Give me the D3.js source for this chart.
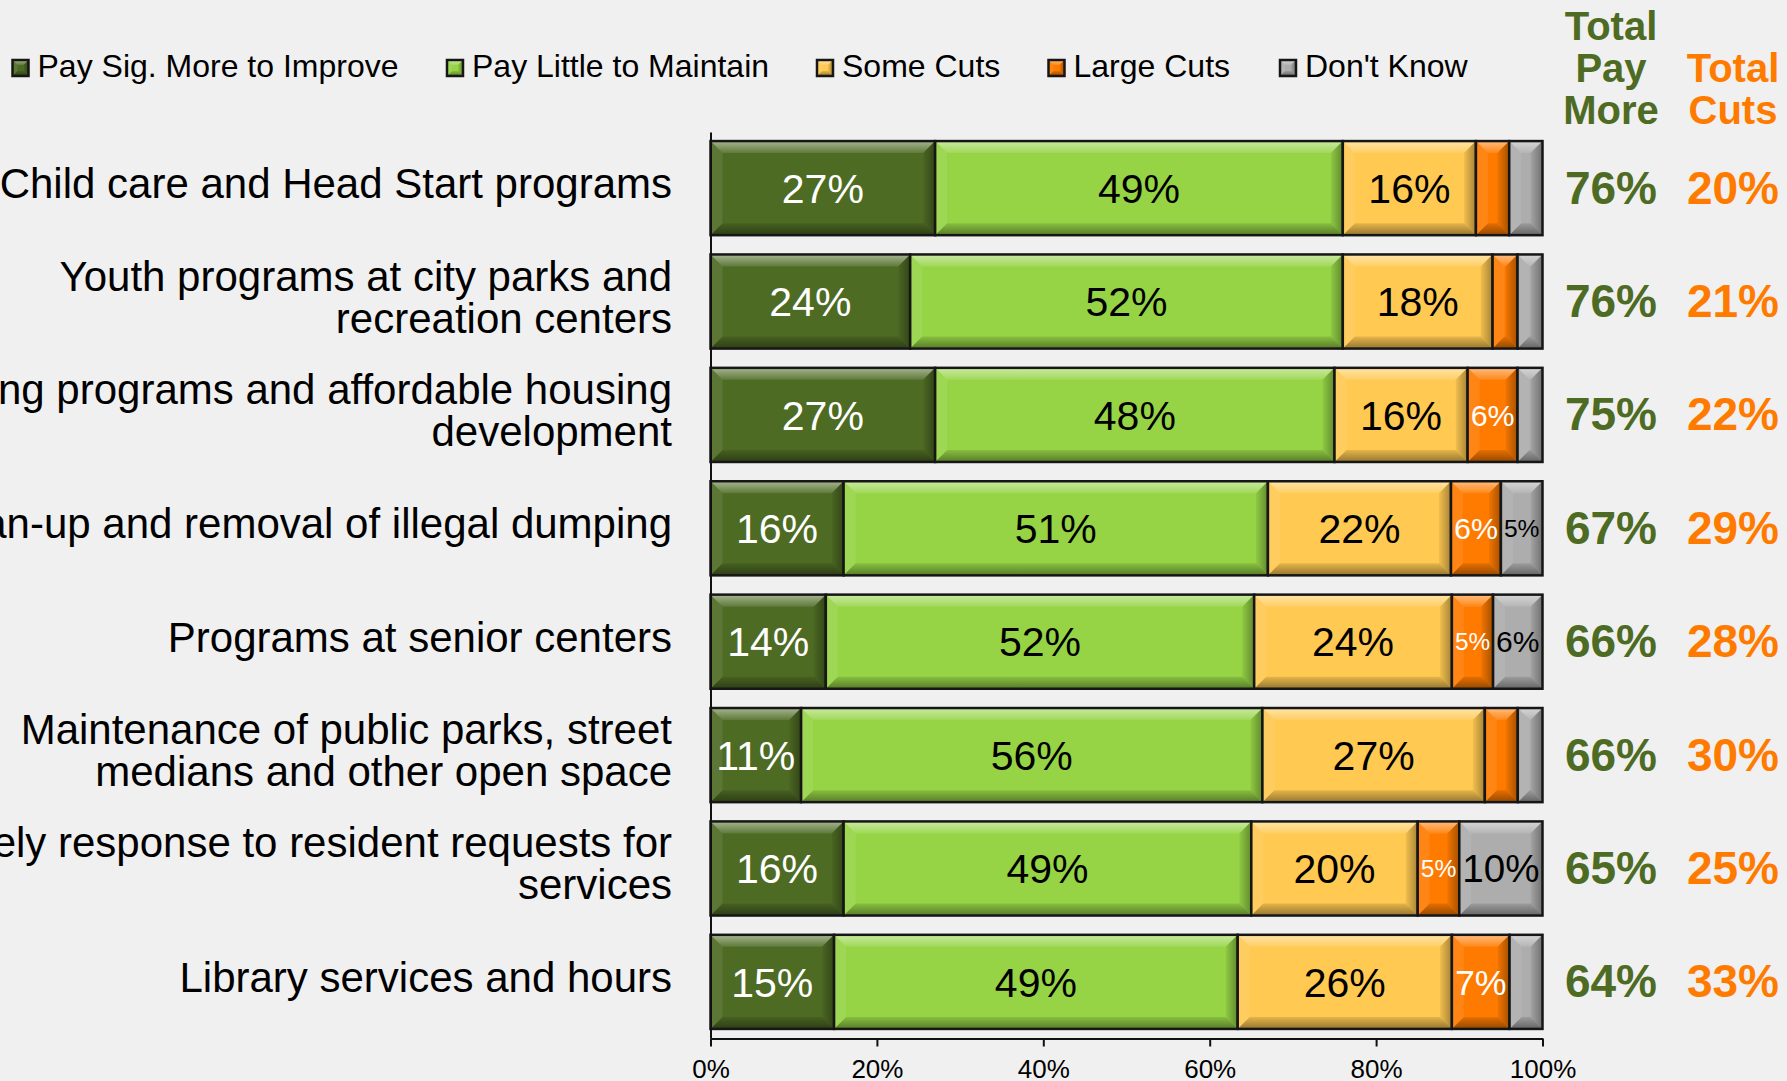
<!DOCTYPE html>
<html>
<head>
<meta charset="utf-8">
<script src="https://cdn.jsdelivr.net/npm/d3@7"></script>
<style>
  html, body { margin: 0; padding: 0; background: #f0f0f0; overflow: hidden; }
  svg { display: block; font-family: "Liberation Sans", Arial, sans-serif; }
</style>
</head>
<body>
<script>
var width = 1787;
var height = 1081;

// categories, one entry per bar ("|" marks a line break in the label)
var categories = [
  "Child care and Head Start programs",
  "Youth programs at city parks and|recreation centers",
  "Housing programs and affordable housing|development",
  "Clean-up and removal of illegal dumping",
  "Programs at senior centers",
  "Maintenance of public parks, street|medians and other open space",
  "Timely response to resident requests for|services",
  "Library services and hours"
];
var seriesNames = ["Pay Sig. More to Improve", "Pay Little to Maintain", "Some Cuts", "Large Cuts", "Don't Know"];
var paySigMore = [27, 24, 27, 16, 14, 11, 16, 15];
var payLittle  = [49, 52, 48, 51, 52, 56, 49, 49];
var someCuts   = [16, 18, 16, 22, 24, 27, 20, 26];
var largeCuts  = [4, 3, 6, 6, 5, 4, 5, 7];
var dontKnow   = [4, 3, 3, 5, 6, 3, 10, 4];
var totalPayMore = [76, 76, 75, 67, 66, 66, 65, 64];
var totalCuts    = [20, 21, 22, 29, 28, 30, 25, 33];
var xTicks = [0, 20, 40, 60, 80, 100];

var colors = ["#4e6b24", "#96d446", "#ffc952", "#ff7b00", "#adadad"];
var labelColors = ["#ffffff", "#000000", "#000000", "#ffffff", "#000000"];
var payColor = "#4e6b24";
var cutColor = "#ff7b00";

var svg = d3.select("body").append("svg").attr("width", width).attr("height", height);

var defs = svg.append("defs");
var gTop = defs.append("linearGradient").attr("id", "bevTop").attr("x1", 0).attr("y1", 0).attr("x2", 0).attr("y2", 1);
gTop.append("stop").attr("offset", 0).attr("stop-color", "#fff").attr("stop-opacity", 0.5);
gTop.append("stop").attr("offset", 1).attr("stop-color", "#fff").attr("stop-opacity", 0.1);
var gBot = defs.append("linearGradient").attr("id", "bevBot").attr("x1", 0).attr("y1", 0).attr("x2", 0).attr("y2", 1);
gBot.append("stop").attr("offset", 0).attr("stop-color", "#000").attr("stop-opacity", 0.1);
gBot.append("stop").attr("offset", 1).attr("stop-color", "#000").attr("stop-opacity", 0.42);
var gRight = defs.append("linearGradient").attr("id", "bevRight").attr("x1", 0).attr("y1", 0).attr("x2", 1).attr("y2", 0);
gRight.append("stop").attr("offset", 0).attr("stop-color", "#000").attr("stop-opacity", 0.05);
gRight.append("stop").attr("offset", 1).attr("stop-color", "#000").attr("stop-opacity", 0.35);

var rows = categories.map(function(c, i) {
  return { cat: c, s0: paySigMore[i], s1: payLittle[i], s2: someCuts[i], s3: largeCuts[i], s4: dontKnow[i] };
});
var keys = ["s0", "s1", "s2", "s3", "s4"];
var stacked = d3.stack().keys(keys).offset(d3.stackOffsetExpand)(rows);

var x = d3.scaleLinear().domain([0, 1]).range([710.5, 1542.5]);
var xPct = d3.scaleLinear().domain([0, 100]).range([710.5, 1542.5]);
var y = d3.scaleBand().domain(categories).range([132, 1038]).paddingInner(0.17).paddingOuter(0.08);

/* Draw a bevelled box like the Office "bevel" shape style */
function bevelBox(g, x0, y0, w, h, fill, b) {
  var x1 = x0 + w, y1 = y0 + h;
  b = Math.min(b, w / 2, h / 2);
  g.append("rect").attr("x", x0).attr("y", y0).attr("width", w).attr("height", h).attr("fill", fill);
  g.append("polygon").attr("points", [[x0, y0], [x1, y0], [x1 - b, y0 + b], [x0 + b, y0 + b]].join(" "))
    .attr("fill", "url(#bevTop)");
  g.append("polygon").attr("points", [[x0, y1], [x1, y1], [x1 - b, y1 - b], [x0 + b, y1 - b]].join(" "))
    .attr("fill", "url(#bevBot)");
  g.append("polygon").attr("points", [[x0, y0], [x0 + b, y0 + b], [x0 + b, y1 - b], [x0, y1]].join(" "))
    .attr("fill", "#fff").attr("fill-opacity", 0.08);
  g.append("polygon").attr("points", [[x1, y0], [x1 - b, y0 + b], [x1 - b, y1 - b], [x1, y1]].join(" "))
    .attr("fill", "url(#bevRight)");
  g.append("rect").attr("x", x0).attr("y", y0).attr("width", w).attr("height", h)
    .attr("fill", "none").attr("stroke", "#161616").attr("stroke-width", 2.5);
}

// bars
var barG = svg.append("g");
stacked.forEach(function(layer, k) {
  layer.forEach(function(d, i) {
    var x0 = x(d[0]), w = x(d[1]) - x(d[0]);
    var g = barG.append("g");
    bevelBox(g, x0, y(categories[i]), w, y.bandwidth(), colors[k], 12);
    var v = rows[i][keys[k]];
    if (v >= 5) {
      var fs = Math.min(41, (w - 6) / (v >= 10 ? 2.0 : 1.445));
      g.append("text")
        .attr("x", x0 + w / 2)
        .attr("y", y(categories[i]) + y.bandwidth() / 2 + fs * 0.358)
        .attr("text-anchor", "middle")
        .attr("font-size", fs)
        .attr("fill", labelColors[k])
        .text(v + "%");
    }
  });
});

// axes
var xAxis = d3.axisBottom(xPct).tickValues(xTicks).tickFormat(function(d) { return d + "%"; })
  .tickSize(8).tickSizeOuter(0).tickPadding(13);
var xg = svg.append("g").attr("transform", "translate(0,1038.5)").call(xAxis);
xg.select(".domain").attr("stroke", "#111").attr("stroke-width", 2);
xg.selectAll(".tick line").attr("stroke", "#111").attr("stroke-width", 2);
xg.selectAll(".tick text").attr("font-size", 26).attr("fill", "#000")
  .attr("font-family", "'Liberation Sans', Arial, sans-serif");

var yAxis = d3.axisLeft(y).tickValues([]).tickSizeOuter(0);
var yg = svg.append("g").attr("transform", "translate(710.5,0)").call(yAxis);
yg.select(".domain").attr("stroke", "#111").attr("stroke-width", 2);

// category labels
categories.forEach(function(c, i) {
  var lines = c.split("|");
  var cy = y(c) + y.bandwidth() / 2;
  var first = cy + 10 - 21 * (lines.length - 1);
  var t = svg.append("text").attr("text-anchor", "end").attr("font-size", 42).attr("fill", "#000");
  lines.forEach(function(l, j) {
    t.append("tspan").attr("x", 672).attr("y", first + j * 42).text(l);
  });
});

// totals columns
function totalsColumn(cx, header, values, color) {
  var h = svg.append("text").attr("text-anchor", "middle").attr("font-size", 40)
    .attr("font-weight", "bold").attr("fill", color);
  var startY = 123.5 - (header.length - 1) * 42;
  header.forEach(function(l, j) {
    h.append("tspan").attr("x", cx).attr("y", startY + j * 42).text(l);
  });
  values.forEach(function(v, i) {
    svg.append("text")
      .attr("x", cx)
      .attr("y", y(categories[i]) + y.bandwidth() / 2 + 15.5)
      .attr("text-anchor", "middle")
      .attr("font-size", 46)
      .attr("font-weight", "bold")
      .attr("fill", color)
      .text(v + "%");
  });
}
totalsColumn(1611, ["Total", "Pay", "More"], totalPayMore, payColor);
totalsColumn(1733, ["Total", "Cuts"], totalCuts, cutColor);

// legend
var legendX = [12.5, 447, 817, 1048.5, 1280];
seriesNames.forEach(function(name, k) {
  var g = svg.append("g");
  bevelBox(g, legendX[k], 60, 16, 16, colors[k], 5);
  g.append("text").attr("x", legendX[k] + 25).attr("y", 77).attr("font-size", 32).attr("fill", "#000").text(name);
});
</script>
</body>
</html>
